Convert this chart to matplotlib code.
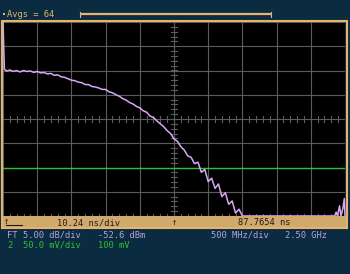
import numpy as np
import matplotlib
matplotlib.use("Agg")
import matplotlib.pyplot as plt
from matplotlib.patches import Rectangle

# FT trace (spectrum), GHz / dBm
freq_ghz = [0.0, 0.02, 0.05, 0.10, 0.15, 0.20, 0.25, 0.30, 0.35, 0.40, 0.45,
            0.50, 0.55, 0.60, 0.65, 0.70, 0.75, 0.80, 0.85, 0.90, 0.95,
            1.00, 1.05, 1.10, 1.15, 1.20, 1.25, 1.30, 1.35, 1.40, 1.45,
            1.50, 1.55, 1.60, 1.65, 1.70, 1.75, 1.80, 1.85, 1.90, 1.95,
            2.00, 2.05, 2.10, 2.15, 2.20, 2.25, 2.30, 2.35, 2.40, 2.45,
            2.50, 2.55, 2.60, 2.65, 2.70, 2.75, 2.80, 2.85, 2.90, 2.95,
            3.00, 3.05, 3.10, 3.15, 3.20, 3.25, 3.30, 3.35, 3.40, 3.45,
            3.50, 4.85, 4.87, 4.89, 4.92, 4.94, 4.97, 4.99, 5.00]
level_dbm = [-32.6, -42.3, -42.7, -42.5, -42.8, -42.6, -42.9, -42.6, -42.8, -42.7, -43.0,
             -42.8, -43.1, -43.0, -43.3, -43.2, -43.6, -43.5, -43.9, -44.0, -44.3,
             -44.6, -44.7, -45.0, -45.1, -45.5, -45.5, -45.9, -46.0, -46.2, -46.5,
             -46.5, -47.0, -47.2, -47.6, -47.9, -48.4, -48.7, -49.2, -49.5, -50.0,
             -50.3, -50.9, -51.2, -52.0, -52.3, -53.0, -53.6, -54.2, -55.0, -55.6,
             -56.7, -57.2, -58.3, -59.0, -60.2, -60.5, -61.8, -61.5, -63.6, -63.0,
             -65.5, -64.8, -66.9, -66.0, -68.6, -67.8, -70.2, -69.5, -72.0, -71.2,
             -72.6, -72.6, -71.8, -72.6, -70.5, -72.6, -71.0, -69.0, -72.6]

# channel 2, time trace (flat)
ch2_time_ns = [0.0, 102.4]
ch2_mv = [0.0, 0.0]

# screen settings
db_per_div = 5.0
ref_dbm = -52.6
mhz_per_div = 500
center_ghz = 2.5
mv_per_div = 50.0
offset_mv = 100.0

bg = "#0b2b40"
tan = "#e2b46e"
tan_fill = "#d2a96c"
purple = "#d9a8f2"
lavender = "#b7a0e2"
green = "#2fbf2f"
grid_col = "#5c5c5c"
mono = "DejaVu Sans Mono"
fs = 6.3

fig = plt.figure(figsize=(3.5, 2.74), dpi=100, facecolor=bg)

# graticule area in pixels: x 3..345, y 22..216
W, H = 350, 274
rect = [3 / W, (H - 216) / H, 342 / W, 194 / H]
ax = fig.add_axes(rect)
ax.set_facecolor("black")
x0, x1 = center_ghz - 5 * mhz_per_div / 1000, center_ghz + 5 * mhz_per_div / 1000
y0, y1 = ref_dbm - 4 * db_per_div, ref_dbm + 4 * db_per_div
ax.set_xlim(x0, x1)
ax.set_ylim(y0, y1)
ax.set_xticks(np.linspace(x0, x1, 11))
ax.set_yticks(np.linspace(y0, y1, 9))
ax.tick_params(length=0, labelbottom=False, labelleft=False)
ax.grid(True, color=grid_col, linewidth=0.8)
for s in ax.spines.values():
    s.set_visible(False)

# minor ticks on the center cross and bottom edge
dx = mhz_per_div / 1000 / 5
dy = db_per_div / 5
for i in range(51):
    xv = x0 + i * dx
    ax.plot([xv, xv], [ref_dbm - 0.6, ref_dbm + 0.6], color=grid_col, lw=0.8)
    ax.plot([xv, xv], [y0, y0 + 0.45], color=grid_col, lw=0.8)
for j in range(41):
    yv = y0 + j * dy
    ax.plot([center_ghz - 0.04, center_ghz + 0.04], [yv, yv], color=grid_col, lw=0.8)

# channel 2 on its own scale (separate transparent axes on top)
ax2 = fig.add_axes(rect, facecolor="none")
ax2.set_xlim(0, 102.4)
ax2.set_ylim(offset_mv - 4 * mv_per_div, offset_mv + 4 * mv_per_div)
ax2.axis("off")
ax2.plot(ch2_time_ns, ch2_mv, color=green, lw=1.0)

ax3 = fig.add_axes(rect, facecolor="none")
ax3.set_xlim(x0, x1)
ax3.set_ylim(y0, y1)
ax3.axis("off")
ax3.plot(freq_ghz, level_dbm, color=purple, lw=1.1, clip_on=False)

# overlay for screen furniture in pixel coords
ov = fig.add_axes([0, 0, 1, 1], facecolor="none")
ov.set_xlim(0, W)
ov.set_ylim(H, 0)
ov.axis("off")

ov.add_patch(Rectangle((1.5, 216), 345, 11.5, facecolor=tan_fill, edgecolor="none"))
ov.add_patch(Rectangle((1.5, 20.5), 345, 207, facecolor="none", edgecolor=tan, lw=1.5))

kw = dict(fontsize=fs, family=mono, va="baseline")

# averaging bar on top
ov.add_patch(Rectangle((2.5, 12.5), 2, 2, facecolor=tan, edgecolor="none"))
ov.text(7, 17, "Avgs = 64", color=tan, **kw)
ov.plot([80, 271], [14, 14], color=tan, lw=1.6, solid_capstyle="butt")
ov.plot([80, 80], [11.5, 16.5], color=tan, lw=0.8)
ov.plot([271, 271], [11.5, 16.5], color=tan, lw=0.8)

# bottom bar
dark = "#1c1c1c"
ov.text(57, 225, "10.24 ns/div", color=dark, **kw)
ov.text(238, 225, "87.7654 ns", color=dark, **kw)
ov.text(174.5, 225, "\u2191", color=dark, ha="center", **kw)
ov.text(6, 224, "\u2191", color=dark, ha="center", **kw)
ov.plot([6, 22], [225, 225], color=dark, lw=0.8)

# readouts
y_a, y_b = 238, 247.5
ov.text(7, y_a, "FT", color=lavender, **kw)
ov.text(23, y_a, "5.00 dB/div", color=lavender, **kw)
ov.text(98, y_a, "-52.6 dBm", color=lavender, **kw)
ov.text(211, y_a, "500 MHz/div", color=lavender, **kw)
ov.text(285, y_a, "2.50 GHz", color=lavender, **kw)
ov.text(7, y_b, "2", color=green, **kw)
ov.text(23, y_b, "50.0 mV/div", color=green, **kw)
ov.text(98, y_b, "100 mV", color=green, **kw)

fig.savefig("out.png", dpi=100, facecolor=bg)
